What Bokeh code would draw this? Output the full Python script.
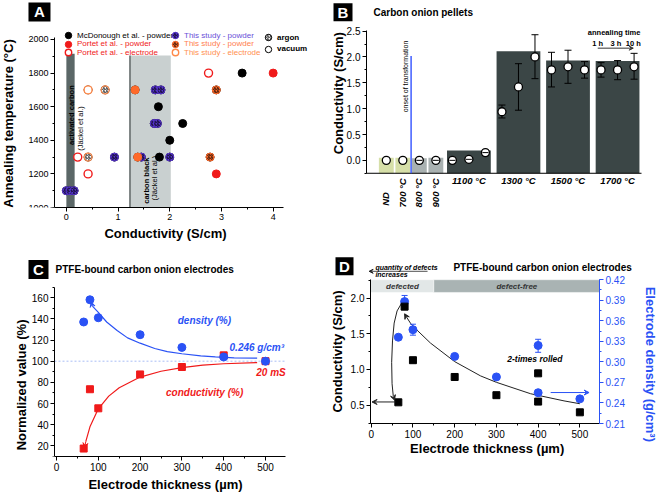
import math
from bokeh.plotting import figure
from bokeh.layouts import column, row
from bokeh.models import (Range1d, LinearAxis, Legend, LegendItem, Arrow,
                          VeeHead, SingleIntervalTicker, NumeralTickFormatter)
from bokeh.embed import file_html
from bokeh.resources import INLINE
from bokeh.core.properties import value

FONT = "Liberation Sans"
BLUE = "#2a52f5"
RED = "#f01a1a"
PURPLE = "#5533cc"
ORANGE = "#ff6a2a"
ORANGE_L = "#ff8a4a"
LEG_SHIFT = 17  # empirical vertical offset of legend boxes

# ---------------- Panel A data ----------------
mcd_x = [3.4, 1.78, 2.25, 2.0, 1.8]
mcd_y = [1800, 1600, 1500, 1400, 1300]
portet_pow_x = [4.0, 2.9]
portet_pow_y = [1800, 1200]
portet_el_x = [2.75, 0.42, 0.22]
portet_el_y = [1800, 1200, 1300]
study_pur_x = [1.72, 1.83, 1.70, 1.76, 0.93, 1.45, 2.0, 0.0, 0.07, 0.15]
study_pur_y = [1700, 1700, 1500, 1500, 1300, 1300, 1300, 1100, 1100, 1100]
study_or_vac_x = [1.33, 1.38]
study_or_vac_y = [1700, 1300]
study_or_ar_x = [2.9, 2.78]
study_or_ar_y = [1700, 1300]
study_el_vac_x = [0.42]
study_el_vac_y = [1700]
study_el_ar_x = [0.42, 0.75]
study_el_ar_y = [1300, 1700]
ac_band = [0.0, 0.16, 1915]
cb_band = [1.23, 2.02, 1905]

# ---------------- Panel B data ----------------
b_small_x = [0, 1, 2, 3]
b_small_top = [0.05, 0.05, 0.04, 0.05]
b_small_colors = ["#d6dfa8", "#d6dfa8", "#a9b1b1", "#a9b1b1"]
b_small_labels = ["ND", "700 °C", "800 °C", "900 °C"]
b_small_label_y = [-0.613, -0.347, -0.347, -0.347]
b_group_x = [5, 8, 11, 14]
b_group_top = [0.19, 2.11, 1.93, 1.92]
b_group_labels = ["1100 °C", "1300 °C", "1500 °C", "1700 °C"]
b_pt_x = [0, 1, 2, 3, 4, 5, 6, 7, 8, 9, 10, 11, 12, 13, 14, 15]
b_pt_y = [0.0, 0.0, 0.0, 0.0, 0.0, 0.02, 0.15, 0.94, 1.42, 2.0,
          1.75, 1.81, 1.75, 1.75, 1.75, 1.81]
b_tiny_x = [2, 3, 4, 5, 6]
b_tiny_y = [0.0, 0.0, 0.0, 0.02, 0.15]
b_err_x = [7, 8, 9, 10, 11, 12, 13, 14, 15]
b_err_lo = [0.82, 0.97, 1.58, 1.42, 1.49, 1.59, 1.61, 1.56, 1.57]
b_err_hi = [1.07, 1.87, 2.43, 2.09, 2.13, 1.91, 1.89, 1.93, 2.07]
b_onset_x = [1.5]
b_time_x = [12.8, 13.9, 14.95]
b_time_labels = ["1 h", "3 h", "10 h"]

# ---------------- Panel C data ----------------
c_thick = [65, 80, 100, 200, 300, 400, 500]
c_density = [137, 158, 141, 125, 113, 104, 100]
c_cond = [17.5, 73.5, 55.5, 87.5, 94.5, 105.5, 100]
c_den_fit_x = [86, 100, 120, 145, 170, 200, 235, 265, 300, 345, 380, 425, 480]
c_den_fit_y = [152, 146, 137, 129, 122, 117, 112, 109, 107, 105, 104, 103.2, 102.8]
c_con_fit_x = [70, 80, 100, 125, 150, 200, 250, 300, 350, 400, 480]
c_con_fit_y = [24, 38, 55, 67, 75, 85, 90.5, 94, 96.3, 97.6, 98.7]

# ---------------- Panel D data ----------------
d_thick = [65, 80, 100, 200, 300, 400, 400, 500]
d_cond = [0.54, 1.88, 1.13, 0.895, 0.64, 0.946, 0.55, 0.40]
d_dens = [0.336, 0.388, 0.347, 0.308, 0.278, 0.324, 0.255, 0.246]
d_err_x = [80, 100, 400]
d_err_lo = [0.381, 0.339, 0.314]
d_err_hi = [0.397, 0.355, 0.333]
d_fit_x = [84, 95, 110, 142, 200, 262, 300, 382, 462, 500]
d_fit_y = [1.74, 1.64, 1.55, 1.37, 1.11, 0.91, 0.82, 0.66, 0.56, 0.52]
d_fit2_x = [72, 62, 55, 51, 49, 50, 53]
d_fit2_y = [1.92, 1.82, 1.65, 1.40, 1.10, 0.80, 0.62]
d_band_x = [-1.7, 150, 547]
d_band_y = [2.079, 2.257]


def base_fig(w, h, xr, yr, bb):
    p = figure(width=w, height=h, x_range=xr, y_range=yr, output_backend="svg",
               toolbar_location=None, min_border_left=0, min_border_right=0,
               min_border_top=0, min_border_bottom=bb)
    p.outline_line_color = None
    p.grid.visible = False
    p.border_fill_color = "white"
    return p


def style_axis(ax, tick_size, label_size="13px", color="black"):
    ax.axis_label_text_font = FONT
    ax.axis_label_text_font_style = "bold"
    ax.axis_label_text_font_size = label_size
    ax.axis_label_text_color = color
    ax.major_label_text_font = FONT
    ax.major_label_text_font_size = tick_size
    ax.major_label_text_color = color
    ax.axis_line_color = color
    ax.major_tick_line_color = color
    ax.minor_tick_line_color = color
    ax.major_tick_out = 4
    ax.major_tick_in = 0
    ax.minor_tick_out = 2
    ax.minor_tick_in = 0
    ax.axis_label_standoff = 3
    ax.major_label_standoff = 2


def letter(p, s, x, y, w, h):
    p.rect(x=[x], y=[y], width=w, height=h, width_units="screen", height_units="screen",
           fill_color="black", line_color=None)
    p.text(x=[x], y=[y], text=[s], text_font=value(FONT), text_font_size="15px",
           text_font_style="bold", text_color="white", text_align="center",
           text_baseline="middle")


def txt(p, x, y, s, size="10px", style="bold", color="black", align="left", angle=0.0,
        baseline="middle", **kw):
    p.text(x=[x], y=[y], text=[s], text_font=value(FONT), text_font_size=size,
           text_font_style=style, text_color=color, text_align=align,
           text_baseline=baseline, angle=angle, **kw)


# ================= Panel A =================
# canvas 330x248, frame x 0..330, y 0..207; y-axis fixed at x=-0.23 (screen 54)
pa = base_fig(330, 248, (-1.274, 5.109), (1000, 2232), 41)
pa.xaxis.axis_label = "Conductivity (S/cm)"
pa.xaxis.ticker = SingleIntervalTicker(interval=1, num_minor_ticks=2)
pa.yaxis.ticker = SingleIntervalTicker(interval=200, num_minor_ticks=2)
pa.xaxis.bounds = (-0.23, 4.2)
pa.yaxis.bounds = (1000, 2010)
pa.yaxis.fixed_location = -0.23
style_axis(pa.xaxis[0], "9px")
style_axis(pa.yaxis[0], "9px")
txt(pa, -1.11, 1500, "Annealing temperature (°C)", size="13px", align="center",
    angle=math.pi / 2)

pa.quad(left=[ac_band[0]], right=[ac_band[1]], bottom=[1000], top=[ac_band[2]],
        fill_color="#5b6767", line_color=None)
pa.quad(left=[cb_band[0]], right=[cb_band[1]], bottom=[1000], top=[cb_band[2]],
        fill_color="#c9d0d0", line_color=None)
pa.segment(x0=[cb_band[0]], y0=[1000], x1=[cb_band[0]], y1=[cb_band[2]],
           line_color="#3e4646", line_width=1.2)
txt(pa, 0.09, 1550, "activated carbon", size="7.5px", align="center", angle=math.pi / 2)
txt(pa, 0.27, 1470, "(Jäckel et al.)", size="7.5px", style="normal", align="center",
    angle=math.pi / 2)
txt(pa, 1.55, 1160, "carbon black", size="7.5px", align="center", angle=math.pi / 2)
txt(pa, 1.70, 1175, "(Jäckel et al.)", size="7.5px", style="normal", align="center",
    angle=math.pi / 2)

SZ = 8
HATCH = dict(hatch_pattern="/", hatch_color="black", hatch_scale=3, hatch_weight=0.8)
# atmosphere keys: all argon / vacuum samples of this study (drawn underneath)
argon_x = study_pur_x + study_or_ar_x + study_el_ar_x
argon_y = study_pur_y + study_or_ar_y + study_el_ar_y
vac_x = study_or_vac_x + study_el_vac_x
vac_y = study_or_vac_y + study_el_vac_y
r_argon = pa.scatter(argon_x, argon_y, size=SZ, fill_color="white", line_color="black", **HATCH)
r_vac = pa.scatter(vac_x, vac_y, size=SZ, fill_color="white", line_color="black", line_width=1)

r_pur = pa.scatter(study_pur_x, study_pur_y, size=SZ, fill_color=PURPLE, line_color=PURPLE, **HATCH)
r_or_vac = pa.scatter(study_or_vac_x, study_or_vac_y, size=SZ, fill_color=ORANGE, line_color=ORANGE)
r_or_ar = pa.scatter(study_or_ar_x, study_or_ar_y, size=SZ, fill_color=ORANGE, line_color=ORANGE, **HATCH)
r_el_vac = pa.scatter(study_el_vac_x, study_el_vac_y, size=SZ, fill_color="white",
                      line_color=ORANGE_L, line_width=1.4)
r_el_ar = pa.scatter(study_el_ar_x, study_el_ar_y, size=SZ, fill_color="white",
                     line_color=ORANGE_L, line_width=1.2, **HATCH)
r_mcd = pa.scatter(mcd_x, mcd_y, size=SZ, fill_color="black", line_color="black")
r_ppow = pa.scatter(portet_pow_x, portet_pow_y, size=SZ, fill_color=RED, line_color=RED)
r_pel = pa.scatter(portet_el_x, portet_el_y, size=SZ, fill_color="white", line_color=RED, line_width=1.4)

A_BOTTOM = 207


def leg(r, lab, color, cx, cy, style="normal"):
    lg = Legend(items=[LegendItem(label=lab, renderers=[r])],
                location=(cx - 8, A_BOTTOM - cy - 8 - LEG_SHIFT),
                orientation="vertical", padding=0, margin=0, spacing=0,
                glyph_width=16, glyph_height=16, label_standoff=1, label_height=16,
                label_text_font=FONT, label_text_font_size="8px", label_text_color=color,
                label_text_font_style=style, border_line_color=None,
                background_fill_alpha=0)
    pa.add_layout(lg)


leg(r_mcd, "McDonough et al. - powder", "black", 68, 18.3)
leg(r_ppow, "Portet et al. - powder", RED, 68, 26.7)
leg(r_pel, "Portet et al. - electrode", RED, 68, 35.3)
leg(r_pur, "This study - powder", "#6a50d8", 175, 18.3)
leg(r_or_ar, "This study - powder", "#ff8050", 175, 26.7)
leg(r_el_vac, "This study - electrode", "#ff9050", 175, 35.3)
leg(r_argon, "argon", "black", 268, 20, "bold")
leg(r_vac, "vacuum", "black", 268, 31.7, "bold")
letter(pa, "A", -0.52, 2163.7, 22, 19)

# ================= Panel B =================
# canvas 331x248, frame covers all; y-axis fixed at x=-1.2 (screen 366); y=-0.25 at 207
pb = base_fig(331, 248, (-3.379, 16.66), (-0.912, 3.092), 0)
pb.yaxis.ticker = SingleIntervalTicker(interval=0.5, num_minor_ticks=2)
pb.yaxis.formatter = NumeralTickFormatter(format="0.0")
pb.yaxis.bounds = (-0.25, 2.52)
pb.yaxis.fixed_location = -1.2
style_axis(pb.yaxis[0], "10px")
pb.xaxis.visible = False
txt(pb, -2.895, 1.299, "Conductivity (S/cm)", size="13px", align="center", angle=math.pi / 2)

pb.vbar(x=b_small_x, width=0.9, bottom=-0.25, top=b_small_top, fill_color=b_small_colors,
        line_color=None)
pb.vbar(x=b_group_x, width=2.65, bottom=-0.25, top=b_group_top, fill_color="#3b4646",
        line_color=None)
pb.segment(x0=[-1.2], y0=[-0.25], x1=[15.45], y1=[-0.25], line_color="black", line_width=1)
pb.segment(x0=b_onset_x, y0=[-0.25], x1=b_onset_x, y1=[2.02], line_color="#2244ff", line_width=1.3)
pb.segment(x0=b_err_x, y0=b_err_lo, x1=b_err_x, y1=b_err_hi, line_color="black", line_width=1)
pb.scatter(b_err_x, b_err_lo, marker="dash", size=7, line_color="black", line_width=1)
pb.scatter(b_err_x, b_err_hi, marker="dash", size=7, line_color="black", line_width=1)
pb.scatter(b_pt_x, b_pt_y, size=8, fill_color="white", line_color="black", line_width=1.3)
pb.scatter(b_tiny_x, b_tiny_y, marker="dash", size=6, line_color="black", line_width=1)
txt(pb, 1.15, 0.93, "onset of transformation", size="7px", style="normal", angle=math.pi / 2)
pb.text(x=b_group_x, y=[-0.395] * 4, text=b_group_labels, text_font=value(FONT),
        text_font_size="9.5px", text_font_style="bold italic", text_align="center",
        text_baseline="middle")
pb.text(x=[v - 0.05 for v in b_small_x], y=b_small_label_y, text=b_small_labels,
        text_font=value(FONT), text_font_size="9.5px", text_font_style="bold italic",
        text_align="right", text_baseline="middle", angle=math.pi / 2)
txt(pb, 12.2, 2.475, "annealing time", size="7.5px")
pb.text(x=b_time_x, y=[2.26] * 3, text=b_time_labels, text_font=value(FONT),
        text_font_size="7.5px", text_font_style="bold", text_align="center",
        text_baseline="middle")
pb.add_layout(Arrow(x_start=12.8, y_start=2.17, x_end=14.95, y_end=2.17, line_color="#333333",
                    line_width=1, end=VeeHead(size=4, fill_color="#333333", line_color="#333333")))
txt(pb, -0.776, 2.853, "Carbon onion pellets", size="10px")
letter(pb, "B", -2.622, 2.865, 19, 18)

# ================= Panel C =================
# canvas 330x246, frame x 0..330, y 0..208; y-axis fixed at x=-4.8 (screen 54)
pc = base_fig(330, 246, (-134.0, 655.5), (10, 206.4), 38)
pc.xaxis.axis_label = "Electrode thickness (µm)"
pc.xaxis.ticker = SingleIntervalTicker(interval=100, num_minor_ticks=2)
pc.yaxis.ticker = SingleIntervalTicker(interval=20, num_minor_ticks=2)
pc.xaxis.bounds = (-4.8, 548)
pc.yaxis.bounds = (10, 170)
pc.yaxis.fixed_location = -4.8
style_axis(pc.xaxis[0], "10px")
style_axis(pc.yaxis[0], "10px")
txt(pc, -83.8, 77.6, "Normalized value (%)", size="13px", align="center", angle=math.pi / 2)
pc.segment(x0=[-4.8], y0=[100], x1=[548], y1=[100], line_color="#a9bdf5", line_dash="2 2",
           line_width=1)
pc.line(c_den_fit_x, c_den_fit_y, line_color=BLUE, line_width=1.2)
pc.line(c_con_fit_x, c_con_fit_y, line_color=RED, line_width=1.2)
pc.add_layout(Arrow(x_start=c_den_fit_x[0], y_start=c_den_fit_y[0], x_end=83, y_end=156,
                    line_color=BLUE, end=VeeHead(size=5, fill_color=BLUE, line_color=BLUE)))
pc.add_layout(Arrow(x_start=c_con_fit_x[0], y_start=c_con_fit_y[0], x_end=67, y_end=18,
                    line_color=RED, end=VeeHead(size=5, fill_color=RED, line_color=RED)))
pc.scatter(c_thick, c_cond, marker="square", size=7, fill_color=RED, line_color=RED)
pc.scatter(c_thick, c_density, size=8, fill_color=BLUE, line_color=BLUE)
txt(pc, 290, 138, "density (%)", style="bold italic", color=BLUE)
txt(pc, 414, 113, "0.246 g/cm³", style="bold italic", color=BLUE)
txt(pc, 478, 89, "20 mS", style="bold italic", color=RED)
txt(pc, 262, 70, "conductivity (%)", style="bold italic", color=RED)
txt(pc, -2.4, 186.2, "PTFE-bound carbon onion electrodes", size="10px")
letter(pc, "C", -43.1, 186.6, 20, 19)

# ================= Panel D =================
# canvas 331x246, frame covers all; axes fixed at x=-1.7 (screen 370), x=547 (599), y=0.243 (455)
pd_ = base_fig(331, 246, (-97.55, 695.6), (-0.2189, 2.6944), 0)
pd_.extra_y_ranges = {"dens": Range1d(0.16185, 0.46556)}
pd_.yaxis.axis_label = "Conductivity (S/cm)"
pd_.xaxis.ticker = SingleIntervalTicker(interval=100, num_minor_ticks=2)
pd_.yaxis.ticker = SingleIntervalTicker(interval=0.5, num_minor_ticks=2)
pd_.yaxis.formatter = NumeralTickFormatter(format="0.0")
pd_.xaxis.bounds = (-1.7, 547)
pd_.xaxis.fixed_location = 0.243
pd_.yaxis.bounds = (0.243, 2.257)
pd_.yaxis.fixed_location = -1.7
style_axis(pd_.xaxis[0], "10px")
style_axis(pd_.yaxis[0], "10px")
rax = LinearAxis(y_range_name="dens",
                 ticker=SingleIntervalTicker(interval=0.03, num_minor_ticks=2),
                 formatter=NumeralTickFormatter(format="0.00"), bounds=(0.21, 0.42),
                 fixed_location=547)
style_axis(rax, "10px", color=BLUE)
pd_.add_layout(rax, "right")
txt(pd_, 669.2, 1.072, "Electrode density (g/cm³)", size="13px", align="center",
    angle=-math.pi / 2, color=BLUE)
txt(pd_, 277.9, -0.112, "Electrode thickness (µm)", size="13px", align="center")

pd_.quad(left=d_band_x[:2], right=d_band_x[1:], bottom=[d_band_y[0]] * 2, top=[d_band_y[1]] * 2,
         fill_color=["#e2e7e7", "#a9b3b3"], line_color="#ffffff", line_width=0.5)
pd_.text(x=[75, 349], y=[2.168, 2.168], text=["defected", "defect-free"], text_align="center",
         text_baseline="middle", text_font=value(FONT), text_font_style="bold italic",
         text_font_size="8px", text_color="#333333")
pd_.line(d_fit_x, d_fit_y, line_color="#222222", line_width=1)
pd_.line(d_fit2_x, d_fit2_y, line_color="#222222", line_width=1)
HD = dict(size=5, fill_color="#222222", line_color="#222222")
pd_.add_layout(Arrow(x_start=d_fit_x[0], y_start=d_fit_y[0], x_end=80, y_end=1.78,
                     line_color="#222222", end=VeeHead(**HD)))
pd_.add_layout(Arrow(x_start=d_fit2_x[-1], y_start=d_fit2_y[-1], x_end=56, y_end=0.57,
                     line_color="#222222", end=VeeHead(**HD)))
pd_.add_layout(Arrow(x_start=58, y_start=0.545, x_end=2, y_end=0.545, line_color="#222222",
                     end=VeeHead(**HD)))
pd_.add_layout(Arrow(x_start=430, y_start=0.677, x_end=522, y_end=0.677, line_color=BLUE,
                     end=VeeHead(size=5, fill_color=BLUE, line_color=BLUE)))
pd_.segment(x0=d_err_x, y0=d_err_lo, x1=d_err_x, y1=d_err_hi, line_color=BLUE, y_range_name="dens")
pd_.scatter(d_err_x, d_err_lo, marker="dash", size=6, line_color=BLUE, y_range_name="dens")
pd_.scatter(d_err_x, d_err_hi, marker="dash", size=6, line_color=BLUE, y_range_name="dens")
pd_.scatter(d_thick, d_dens, size=8, fill_color=BLUE, line_color=BLUE, y_range_name="dens")
pd_.scatter(d_thick, d_cond, marker="square", size=7, fill_color="black", line_color="black")
txt(pd_, 326, 1.15, "2-times rolled", size="8.5px", style="bold italic")
txt(pd_, 10, 2.434, "quantity of defects", size="7px", style="bold italic")
txt(pd_, 10, 2.324, "increases", size="7px", style="bold italic")
pd_.add_layout(Arrow(x_start=135, y_start=2.375, x_end=-5, y_end=2.375, line_color="#222222",
                     line_width=0.8,
                     end=VeeHead(size=4, fill_color="#222222", line_color="#222222")))
txt(pd_, 197, 2.434, "PTFE-bound carbon onion electrodes", size="10px")
letter(pd_, "D", -64.0, 2.446, 18, 18)

layout = column(row(pa, pb), row(pc, pd_))
open("out.html", "w").write(file_html(layout, INLINE))
